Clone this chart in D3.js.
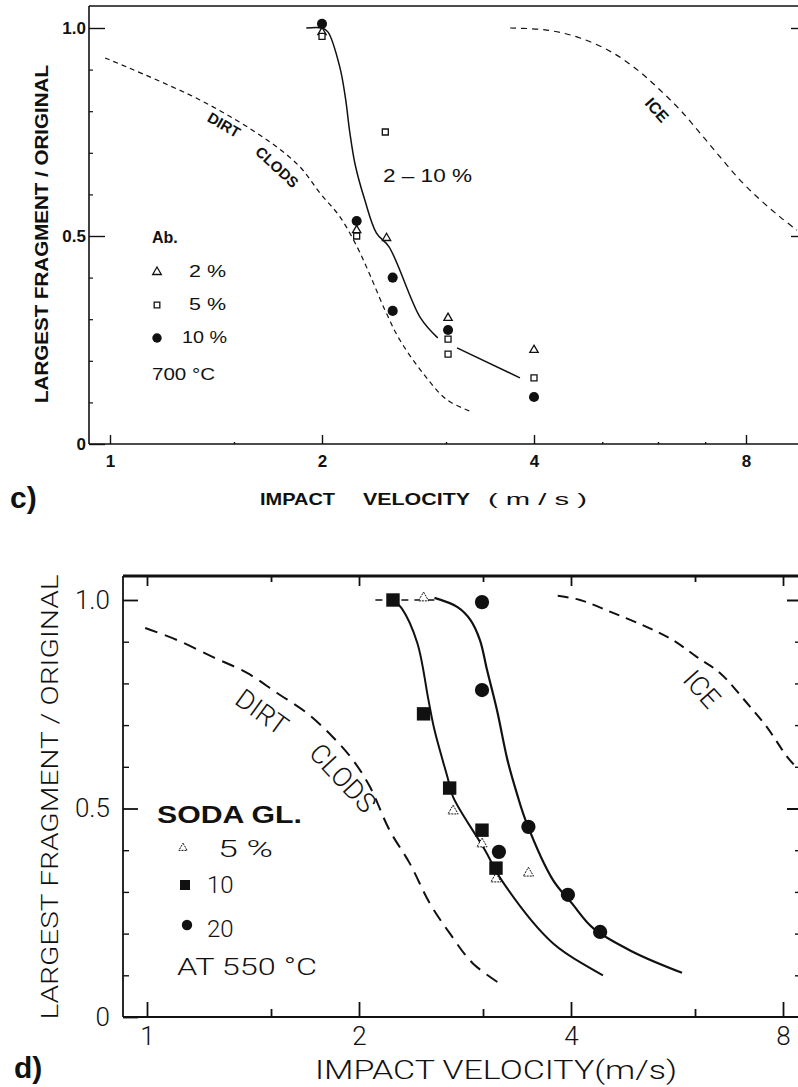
<!DOCTYPE html>
<html>
<head>
<meta charset="utf-8">
<script src="https://cdn.jsdelivr.net/npm/d3@7"></script>
<style>
  body { margin: 0; background: #fff; }
  text { fill: #111; }
</style>
</head>
<body>
<div id="chart"></div>
<script>
//data: [velocity m/s, largest fragment / original]
// panel c (Ab., 700 C)
var cTri = [[2.0, 0.99], [2.24, 0.514], [2.47, 0.495], [3.02, 0.303], [4.0, 0.226]];
var cSq = [[2.0, 0.98], [2.24, 0.50], [2.46, 0.75], [3.02, 0.252], [3.02, 0.216], [4.0, 0.159]];
var cDot = [[2.0, 1.01], [2.24, 0.536], [2.52, 0.40], [2.52, 0.32], [3.02, 0.274], [4.0, 0.113]];
var cFitA = [[1.90, 1.0], [2.0, 1.0], [2.04, 0.99], [2.12, 0.906], [2.16, 0.83], [2.19, 0.75],
             [2.23, 0.67], [2.30, 0.587], [2.39, 0.507], [2.49, 0.474], [2.76, 0.303], [2.92, 0.255]];
var cFitB = [[3.11, 0.231], [3.82, 0.159]];
var cDirt = [[0.984, 0.928], [1.342, 0.827], [1.671, 0.731], [1.861, 0.666], [1.987, 0.603],
             [2.121, 0.546], [2.243, 0.474], [2.34, 0.406], [2.457, 0.322], [2.58, 0.25],
             [2.78, 0.171], [3.01, 0.106], [3.27, 0.077]];
var cIce = [[3.70, 1.0], [4.17, 0.995], [4.65, 0.976], [5.18, 0.94], [5.66, 0.894], [6.04, 0.851],
            [6.45, 0.803], [6.88, 0.748], [7.35, 0.69], [7.84, 0.635], [8.38, 0.587], [8.94, 0.546],
            [9.45, 0.514]];
var cLegend = ["2 %", "5 %", "10 %"];

// panel d (soda glass, 550 C)
var dTri = [[2.47, 1.005], [2.72, 0.494], [2.99, 0.415], [3.13, 0.331], [3.48, 0.345]];
var dSq = [[2.235, 1.0], [2.47, 0.727], [2.69, 0.549], [2.99, 0.448], [3.13, 0.357]];
var dDot = [[2.99, 0.995], [2.99, 0.784], [3.48, 0.456], [3.16, 0.396], [3.96, 0.293], [4.40, 0.204]];
var dTop = [[2.11, 1.0], [2.56, 1.0]];
var dFit10 = [[2.235, 1.0], [2.30, 0.98], [2.42, 0.897], [2.51, 0.76], [2.56, 0.688], [2.67, 0.576],
              [2.72, 0.528], [2.94, 0.432], [3.02, 0.40], [3.20, 0.324], [3.77, 0.177], [4.44, 0.10]];
var dFit20 = [[2.56, 1.005], [2.76, 0.983], [2.88, 0.952], [2.97, 0.904], [3.04, 0.832], [3.14, 0.736],
              [3.25, 0.616], [3.35, 0.537], [3.46, 0.465], [3.77, 0.329], [4.01, 0.273], [4.30, 0.213],
              [4.90, 0.156], [5.75, 0.106]];
var dDirt = [[0.994, 0.933], [1.103, 0.904], [1.241, 0.863], [1.387, 0.825], [1.53, 0.777],
             [1.687, 0.729], [1.837, 0.671], [1.961, 0.616], [2.073, 0.552], [2.21, 0.448],
             [2.36, 0.369], [2.52, 0.273], [2.69, 0.201], [2.90, 0.129], [3.19, 0.077]];
var dIce = [[3.83, 1.01], [4.12, 1.0], [4.59, 0.969], [5.13, 0.935], [5.58, 0.904], [6.04, 0.863],
            [6.51, 0.825], [7.11, 0.753], [7.59, 0.695], [8.11, 0.624], [8.40, 0.595]];
var dLegend = ["5 %", "10", "20"];

var xMajor = [1, 2, 4, 8];
var yMajor = [0, 0.5, 1];
var yMinor = [0.1, 0.2, 0.3, 0.4, 0.6, 0.7, 0.8, 0.9];

//globals
var width = 798;
var height = 1087;
var cFont = "'Liberation Sans', Arial, sans-serif";
var dFont = "Roboto, 'Open Sans', sans-serif";

var svg = d3.select('#chart')
    .append("svg")
    .attr("width", width)
    .attr("height", height);

var cBox = {left: 89, right: 800, top: 6, bottom: 444};
var dBox = {left: 123, right: 800, top: 576, bottom: 1017};

var cx = d3.scaleLog().domain([1, 8]).range([110, 746]);
var cy = d3.scaleLinear().domain([0, 1]).range([444, 28]);
var dx = d3.scaleLog().domain([1, 8]).range([147, 783]);
var dy = d3.scaleLinear().domain([0, 1]).range([1017, 600]);

function addClip(id, box) {
    svg.append("clipPath").attr("id", id)
        .append("rect")
        .attr("x", box.left).attr("y", box.top)
        .attr("width", box.right - box.left).attr("height", box.bottom - box.top);
}
addClip("clipC", cBox);
addClip("clipD", dBox);

function frame(box, w, topW) {
    var g = svg.append("g").attr("stroke", "#111").attr("fill", "none");
    g.append("line").attr("x1", box.left).attr("x2", box.right)
        .attr("y1", box.bottom).attr("y2", box.bottom).attr("stroke-width", w);
    g.append("line").attr("x1", box.left).attr("x2", box.left)
        .attr("y1", box.top).attr("y2", box.bottom).attr("stroke-width", w);
    g.append("line").attr("x1", box.left).attr("x2", box.right)
        .attr("y1", box.top).attr("y2", box.top).attr("stroke-width", topW);
}

function axisG(axis, tx, ty, sw) {
    var g = svg.append("g")
        .attr("transform", "translate(" + tx + "," + ty + ")")
        .call(axis);
    g.select(".domain").remove();
    g.selectAll("line").attr("stroke", "#111").attr("stroke-width", sw);
    return g;
}

function curve(data, x, y, clip, sw, dash, smooth) {
    var line = d3.line()
        .x(function(d) { return x(d[0]); })
        .y(function(d) { return y(d[1]); })
        .curve(smooth ? d3.curveCatmullRom.alpha(0.5) : d3.curveLinear);
    svg.append("path")
        .datum(data)
        .attr("clip-path", "url(#" + clip + ")")
        .attr("d", line)
        .attr("fill", "none")
        .attr("stroke", "#111")
        .attr("stroke-width", sw)
        .attr("stroke-dasharray", dash);
}

function marks(data, x, y, type, size, filled, sw, dash) {
    svg.append("g").selectAll("path")
        .data(data)
        .enter()
        .append("path")
        .attr("transform", function(d) { return "translate(" + x(d[0]) + "," + y(d[1]) + ")"; })
        .attr("d", d3.symbol().type(type).size(size))
        .attr("fill", filled ? "#111" : "#fff")
        .attr("stroke", "#111")
        .attr("stroke-width", sw)
        .attr("stroke-dasharray", dash);
}

function label(txt, x, y, opts) {
    var t = svg.append("text")
        .attr("x", x).attr("y", y)
        .attr("font-family", opts.font)
        .attr("font-size", opts.size)
        .attr("font-weight", opts.weight || "normal")
        .attr("text-anchor", opts.anchor || "start")
        .style("white-space", "pre")
        .text(txt);
    if (opts.len) t.attr("textLength", opts.len).attr("lengthAdjust", "spacingAndGlyphs");
    if (opts.rot !== undefined) {
        t.attr("x", 0).attr("y", 0)
            .attr("dy", opts.dy || "0.35em")
            .attr("transform", "translate(" + x + "," + y + ") rotate(" + opts.rot + ")");
    }
    return t;
}

// ---------- panel c ----------
frame(cBox, 1.6, 1.6);

var cxMaj = axisG(d3.axisBottom(cx).tickValues(xMajor).tickSize(-9).tickPadding(11)
        .tickFormat(d3.format("d")), 0, cBox.bottom, 1.4);
cxMaj.selectAll("text").attr("font-family", cFont).attr("font-size", 17).attr("font-weight", "bold");
axisG(d3.axisBottom(cx).tickValues([1.5, 3, 5, 6, 7]).tickSize(-2).tickFormat(""), 0, cBox.bottom, 1.4);

var cyMaj = axisG(d3.axisLeft(cy).tickValues(yMajor).tickSize(-16).tickPadding(3)
        .tickFormat(function(d) { return d === 0 ? "0" : d3.format(".1f")(d); }), cBox.left, 0, 1.4);
cyMaj.selectAll("text").attr("font-family", cFont).attr("font-size", 17).attr("font-weight", "bold");
axisG(d3.axisLeft(cy).tickValues(yMinor).tickSize(-4).tickFormat(""), cBox.left, 0, 1.2);
axisG(d3.axisRight(cy).tickValues([0.5, 1]).tickSize(-7).tickFormat(""), 798, 0, 1.4);

curve(cDirt, cx, cy, "clipC", 1.2, "5,4", true);
curve(cIce, cx, cy, "clipC", 1.2, "6,5", true);
curve(cFitA, cx, cy, "clipC", 1.5, null, true);
curve(cFitB, cx, cy, "clipC", 1.5, null, false);

marks(cTri, cx, cy, d3.symbolTriangle, 30, false, 1.3);
marks(cSq, cx, cy, d3.symbolSquare, 36, false, 1.3);
marks(cDot, cx, cy, d3.symbolCircle, 80, true, 0);

label("LARGEST FRAGMENT / ORIGINAL", 42, 234,
    {font: cFont, size: 18, weight: "bold", anchor: "middle", rot: -90, dy: 0, len: 338});
label("IMPACT", 260, 505, {font: cFont, size: 17, weight: "bold", len: 75});
label("VELOCITY", 363, 505, {font: cFont, size: 17, weight: "bold", len: 107});
label("( m / s )", 488, 505, {font: cFont, size: 17, len: 99});
label("c)", 10, 508, {font: cFont, size: 30, weight: "bold"});

label("DIRT", 224, 125, {font: cFont, size: 15, weight: "bold", anchor: "middle", rot: 30});
label("CLODS", 277, 167, {font: cFont, size: 15, weight: "bold", anchor: "middle", rot: 43});
label("ICE", 657, 110, {font: cFont, size: 16, weight: "bold", anchor: "middle", rot: 48});
label("2 – 10 %", 383, 182, {font: cFont, size: 19, len: 89});

// legend c
label("Ab.", 152, 243, {font: cFont, size: 16, weight: "bold"});
var cLegY = [272, 305, 338];
var cLegSym = [d3.symbolTriangle, d3.symbolSquare, d3.symbolCircle];
cLegend.forEach(function(t, i) {
    svg.append("path")
        .attr("transform", "translate(157," + cLegY[i] + ")")
        .attr("d", d3.symbol().type(cLegSym[i]).size(i === 2 ? 70 : 32))
        .attr("fill", i === 2 ? "#111" : "#fff")
        .attr("stroke", "#111").attr("stroke-width", i === 2 ? 0 : 1.3);
    label(t, i === 2 ? 182 : 189, cLegY[i] + 5, {font: cFont, size: 16, len: i === 2 ? 45 : 37});
});
label("700 °C", 152, 380, {font: cFont, size: 16, len: 63});

// ---------- panel d ----------
frame(dBox, 1.8, 3);

var dxMaj = axisG(d3.axisBottom(dx).tickValues(xMajor).tickSize(-15).tickPadding(10)
        .tickFormat(d3.format("d")), 0, dBox.bottom, 1.8);
dxMaj.selectAll("text").attr("font-family", dFont).attr("font-size", 26).attr("font-weight", 300);
axisG(d3.axisBottom(dx).tickValues([1.5, 3, 6]).tickSize(-8).tickFormat(""), 0, dBox.bottom, 1.8);
axisG(d3.axisTop(dx).tickValues(xMajor).tickSize(-10).tickFormat(""), 0, dBox.top, 1.8);
axisG(d3.axisTop(dx).tickValues([1.5, 3, 6]).tickSize(-6).tickFormat(""), 0, dBox.top, 1.8);

var dyMaj = axisG(d3.axisLeft(dy).tickValues(yMajor).tickSize(-15).tickPadding(13)
        .tickFormat(function(d) { return d === 0 ? "0" : d3.format(".1f")(d); }), dBox.left, 0, 1.8);
dyMaj.selectAll("text").attr("font-family", dFont).attr("font-size", 26).attr("font-weight", 300);
axisG(d3.axisLeft(dy).tickValues(yMinor).tickSize(-6).tickFormat(""), dBox.left, 0, 1.4);
axisG(d3.axisRight(dy).tickValues([0.5, 1]).tickSize(-11).tickFormat(""), 798, 0, 2);
axisG(d3.axisRight(dy).tickValues(yMinor).tickSize(-3).tickFormat(""), 798, 0, 1.4);

curve(dDirt, dx, dy, "clipD", 2, "13,8", true);
curve(dIce, dx, dy, "clipD", 2, "11,7", true);
curve(dTop, dx, dy, "clipD", 1.5, "7,6", false);
curve(dFit10, dx, dy, "clipD", 2, null, true);
curve(dFit20, dx, dy, "clipD", 2.2, null, true);

marks(dTri, dx, dy, d3.symbolTriangle, 45, false, 1, "2,1");
marks(dSq, dx, dy, d3.symbolSquare, 180, true, 0);
marks(dDot, dx, dy, d3.symbolCircle, 160, true, 0);

label("LARGEST FRAGMENT / ORIGINAL", 50, 797,
    {font: dFont, size: 24, weight: 300, anchor: "middle", rot: -90, dy: 0, len: 445});
label("IMPACT VELOCITY(m/s)", 315, 1079, {font: dFont, size: 26, weight: 300, len: 362});
label("d)", 14, 1078, {font: cFont, size: 30, weight: "bold"});

label("DIRT", 262, 712, {font: dFont, size: 27, weight: 300, anchor: "middle", rot: 36});
label("CLODS", 343, 778, {font: dFont, size: 27, weight: 300, anchor: "middle", rot: 47});
label("ICE", 702, 689, {font: dFont, size: 27, weight: 300, anchor: "middle", rot: 48});

// legend d
label("SODA GL.", 157, 823, {font: cFont, size: 23, weight: "bold", len: 145});
var dLegY = [848, 885, 925];
label(dLegend[0], 218, 857, {font: dFont, size: 24, weight: 300, len: 55});
label(dLegend[1], 207, 893, {font: dFont, size: 24, weight: 300});
label(dLegend[2], 207, 937, {font: dFont, size: 24, weight: 300});
svg.append("path").attr("transform", "translate(183," + dLegY[0] + ")")
    .attr("d", d3.symbol().type(d3.symbolTriangle).size(30))
    .attr("fill", "#fff").attr("stroke", "#111").attr("stroke-width", 1).attr("stroke-dasharray", "2,1");
svg.append("path").attr("transform", "translate(185," + dLegY[1] + ")")
    .attr("d", d3.symbol().type(d3.symbolSquare).size(100)).attr("fill", "#111");
svg.append("path").attr("transform", "translate(187," + dLegY[2] + ")")
    .attr("d", d3.symbol().type(d3.symbolCircle).size(85)).attr("fill", "#111");
label("AT 550 °C", 177, 975, {font: dFont, size: 24, weight: 300, len: 140});
</script>
</body>
</html>
